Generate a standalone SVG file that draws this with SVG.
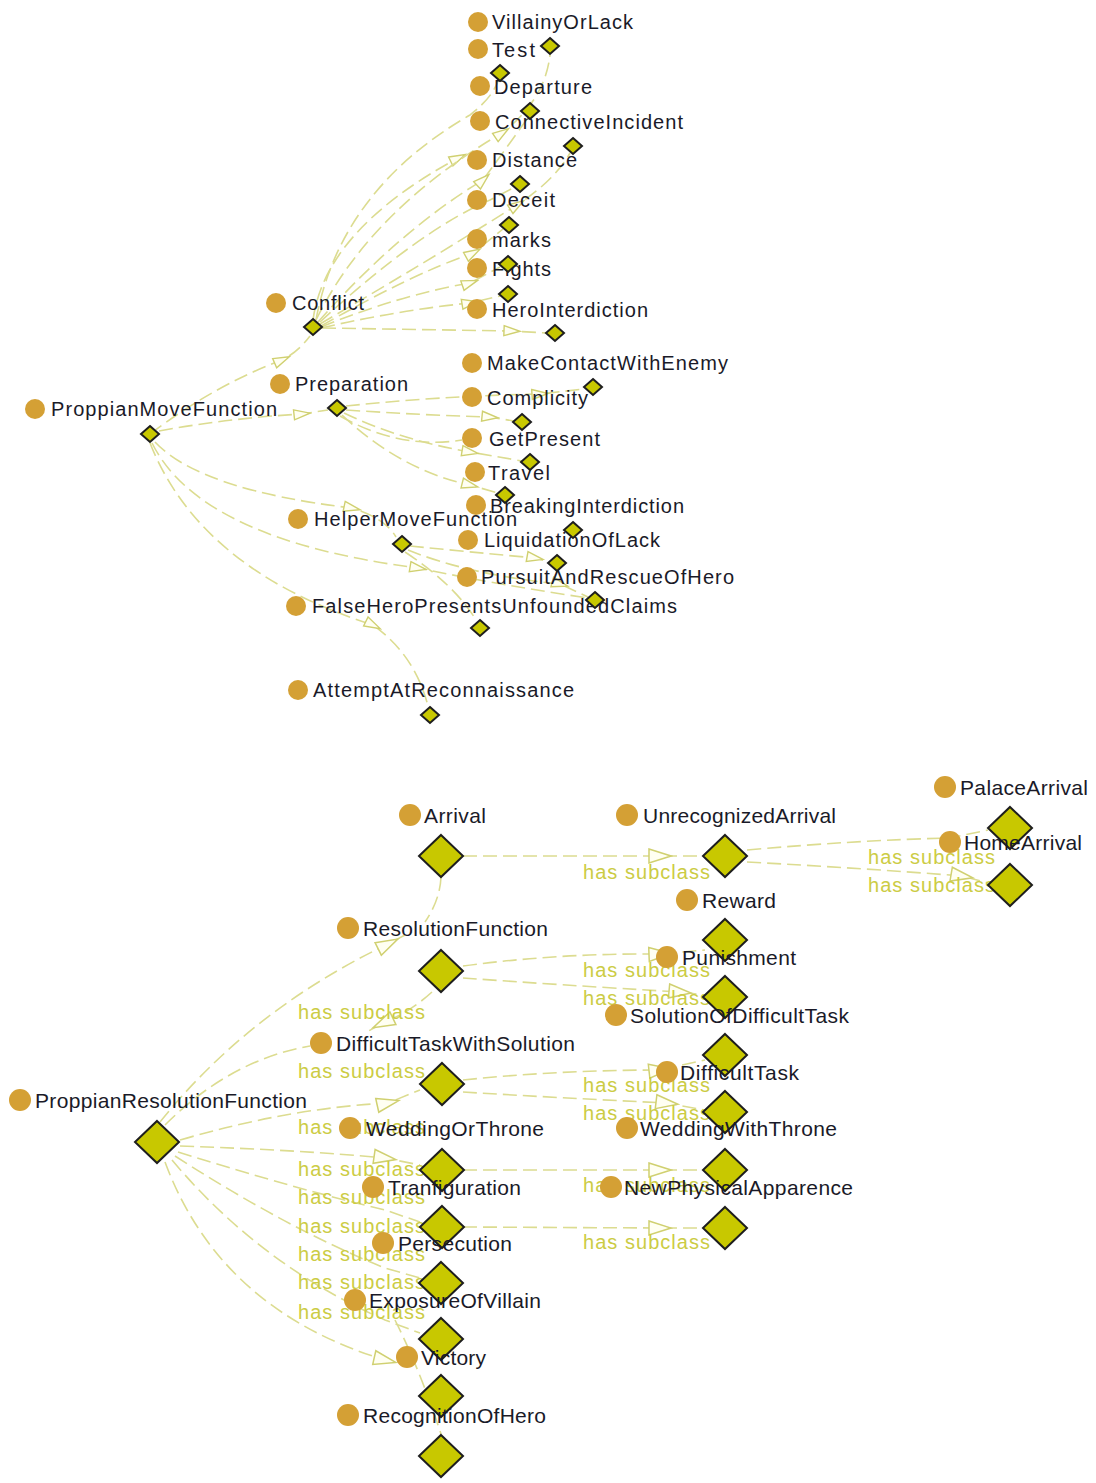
<svg xmlns="http://www.w3.org/2000/svg" width="1096" height="1483" viewBox="0 0 1096 1483">
<style>
.c{fill:#d4a035}
.cb{fill:#d4a035}
.d{fill:#c8c800;stroke:#1e1e1e;stroke-width:2;stroke-linejoin:miter}
.t{font-family:"Liberation Sans",Arial,sans-serif;font-size:20px;fill:#1a1a28}
.tb{font-family:"Liberation Sans",Arial,sans-serif;font-size:21px;fill:#1a1a28}
.e{fill:none;stroke:#dcdc90;stroke-width:1.6;stroke-dasharray:14 6}
.et{marker-mid:url(#mt)}
.eb{marker-mid:url(#mb)}
.l{font-family:"Liberation Sans",Arial,sans-serif;font-size:20px;fill:#cccc44}
</style>
<defs>
<marker id="mt" markerUnits="userSpaceOnUse" viewBox="-2 -2 20 14" refX="8" refY="5" markerWidth="20" markerHeight="14" orient="auto">
<path d="M0,0 L16,5 L0,10 Z" fill="#fffff2" stroke="#d0d070" stroke-width="1.4"/>
</marker>
<marker id="mb" markerUnits="userSpaceOnUse" viewBox="-2 -2 26 18" refX="11" refY="7" markerWidth="26" markerHeight="18" orient="auto">
<path d="M0,0 L22,7 L0,14 Z" fill="#fffff2" stroke="#d0d070" stroke-width="1.5"/>
</marker>
<path id="ds" class="d" d="M0,-8 L9,0 L0,8 L-9,0 Z"/>
<path id="db" class="d" d="M0,-21 L22,0 L0,21 L-22,0 Z"/>
</defs>
<rect width="1096" height="1483" fill="#ffffff"/>

<g id="connectors">
<!-- top: ProppianMoveFunction -->
<path class="e et" d="M150,434 Q215,385 282,360 Q298,352 310,336"/>
<path class="e et" d="M159,431 Q230,418 302,414 L328,410"/>
<path class="e et" d="M155,442 Q200,490 352,508 Q385,518 396,537"/>
<path class="e et" d="M152,443 Q200,540 418,568 Q500,585 588,598"/>
<path class="e et" d="M150,443 Q200,570 373,625 Q415,655 428,706"/>
<!-- HelperMoveFunction -->
<path class="e et" d="M410,546 Q470,552 535,558 L550,562"/>
<path class="e et" d="M408,550 Q470,575 560,584 L588,597"/>
<path class="e" d="M405,552 Q455,585 476,620"/>
<!-- Preparation -->
<path class="e et" d="M346,406 Q440,396 540,394 L584,389"/>
<path class="e et" d="M346,410 Q420,415 490,417 L514,421"/>
<path class="e et" d="M344,413 Q400,440 470,452 Q505,458 522,461"/>
<path class="e et" d="M342,415 Q400,470 470,485 L498,493"/>
<path class="e" d="M340,416 Q400,450 462,440"/>
<!-- Conflict -->
<path class="e et" d="M313,320 Q325,230 458,158 L470,153"/>
<path class="e et" d="M316,320 Q370,210 502,133 Q545,100 550,55"/>
<path class="e et" d="M318,322 Q400,230 483,180 Q505,150 527,119"/>
<path class="e et" d="M320,324 Q430,260 517,205 Q555,180 570,153"/>
<path class="e et" d="M321,326 Q410,275 473,253 L503,229"/>
<path class="e et" d="M321,327 Q400,295 470,283 L500,267"/>
<path class="e et" d="M321,328 Q400,310 470,303 L500,296"/>
<path class="e et" d="M322,328 L512,331 L546,333"/>
<path class="e" d="M316,320 Q340,190 470,115 Q492,98 498,81"/>
<path class="e" d="M320,322 Q420,230 490,200 L513,188"/>

<!-- bottom -->
<path class="e eb" d="M463,856 L660,856 L703,856"/>
<path class="e" d="M747,850 Q860,840 950,838 L988,830"/>
<path class="e eb" d="M747,862 Q860,868 962,876 L988,883"/>
<path class="e eb" d="M463,966 Q560,953 660,954 L705,950"/>
<path class="e eb" d="M463,978 Q560,985 680,992 L704,995"/>
<path class="e eb" d="M463,1080 Q560,1070 660,1070 L705,1060"/>
<path class="e eb" d="M463,1092 Q560,1098 667,1103 L704,1110"/>
<path class="e eb" d="M463,1170 L660,1170 L703,1170"/>
<path class="e eb" d="M463,1227 L660,1228 L703,1228"/>
<path class="e eb" d="M160,1122 Q250,1010 388,944 L405,935"/>
<path class="e" d="M165,1125 Q230,1060 310,1046"/>
<path class="e eb" d="M180,1140 Q290,1108 388,1103 L420,1090"/>
<path class="e eb" d="M180,1146 Q300,1150 385,1158 L420,1165"/>
<path class="e" d="M178,1152 Q300,1190 385,1210 L420,1222"/>
<path class="e" d="M175,1156 Q290,1230 385,1268 L420,1278"/>
<path class="e" d="M172,1160 Q260,1265 385,1320 L420,1333"/>
<path class="e eb" d="M165,1162 Q220,1310 385,1360 L398,1362"/>
<path class="e eb" d="M432,992 Q410,1012 383,1023 L365,1033"/>
<path class="e" d="M441,877 Q440,900 425,922"/>
<path class="e" d="M395,1320 Q420,1370 441,1434"/>

<text class="l" x="583" y="879" textLength="127">has subclass</text>
<text class="l" x="868" y="864" textLength="127">has subclass</text>
<text class="l" x="868" y="892" textLength="127">has subclass</text>
<text class="l" x="583" y="977" textLength="127">has subclass</text>
<text class="l" x="583" y="1005" textLength="127">has subclass</text>
<text class="l" x="583" y="1092" textLength="127">has subclass</text>
<text class="l" x="583" y="1120" textLength="127">has subclass</text>
<text class="l" x="583" y="1192" textLength="127">has subclass</text>
<text class="l" x="583" y="1249" textLength="127">has subclass</text>
<text class="l" x="298" y="1019" textLength="127">has subclass</text>
<text class="l" x="298" y="1078" textLength="127">has subclass</text>
<text class="l" x="298" y="1134" textLength="127">has subclass</text>
<text class="l" x="298" y="1176" textLength="127">has subclass</text>
<text class="l" x="298" y="1204" textLength="127">has subclass</text>
<text class="l" x="298" y="1233" textLength="127">has subclass</text>
<text class="l" x="298" y="1261" textLength="127">has subclass</text>
<text class="l" x="298" y="1289" textLength="127">has subclass</text>
<text class="l" x="298" y="1319" textLength="127">has subclass</text>
</g>

<!-- top nodes -->
<g id="n-VillainyOrLack"><circle class="c" cx="478" cy="22" r="10"/><text class="t" x="492" y="29" textLength="141">VillainyOrLack</text></g>
<g id="n-Test"><circle class="c" cx="478" cy="49" r="10"/><text class="t" x="492" y="57" textLength="43">Test</text><use href="#ds" x="550" y="46"/></g>
<g id="n-Departure"><circle class="c" cx="480" cy="86" r="10"/><text class="t" x="494" y="94" textLength="98">Departure</text><use href="#ds" x="500" y="73"/></g>
<g id="n-ConnectiveIncident"><circle class="c" cx="480" cy="121" r="10"/><text class="t" x="495" y="129" textLength="188">ConnectiveIncident</text><use href="#ds" x="530" y="111"/></g>
<g id="n-Distance"><circle class="c" cx="477" cy="160" r="10"/><text class="t" x="492" y="167" textLength="85">Distance</text><use href="#ds" x="573" y="146"/></g>
<g id="n-Deceit"><circle class="c" cx="477" cy="200" r="10"/><text class="t" x="492" y="207" textLength="63">Deceit</text><use href="#ds" x="520" y="184"/></g>
<g id="n-marks"><circle class="c" cx="477" cy="239" r="10"/><text class="t" x="492" y="247" textLength="59">marks</text><use href="#ds" x="509" y="225"/></g>
<g id="n-Fights"><circle class="c" cx="477" cy="268" r="10"/><text class="t" x="492" y="276" textLength="59">Fights</text><use href="#ds" x="508" y="264"/></g>
<g id="n-HeroInterdiction"><circle class="c" cx="477" cy="309" r="10"/><text class="t" x="492" y="317" textLength="156">HeroInterdiction</text><use href="#ds" x="508" y="294"/></g>
<g id="n-Conflict"><circle class="c" cx="276" cy="303" r="10"/><text class="t" x="292" y="310" textLength="72">Conflict</text><use href="#ds" x="313" y="327"/></g>
<g id="n-MakeContactWithEnemy"><circle class="c" cx="472" cy="363" r="10"/><text class="t" x="487" y="370" textLength="241">MakeContactWithEnemy</text><use href="#ds" x="555" y="333"/></g>
<g id="n-Complicity"><circle class="c" cx="472" cy="397" r="10"/><text class="t" x="487" y="405" textLength="101">Complicity</text><use href="#ds" x="593" y="387"/></g>
<g id="n-Preparation"><circle class="c" cx="280" cy="384" r="10"/><text class="t" x="295" y="391" textLength="113">Preparation</text><use href="#ds" x="337" y="408"/></g>
<g id="n-ProppianMoveFunction"><circle class="c" cx="35" cy="409" r="10"/><text class="t" x="51" y="416" textLength="226">ProppianMoveFunction</text><use href="#ds" x="150" y="434"/></g>
<g id="n-GetPresent"><circle class="c" cx="472" cy="438" r="10"/><text class="t" x="489" y="446" textLength="111">GetPresent</text><use href="#ds" x="522" y="422"/></g>
<g id="n-Travel"><circle class="c" cx="475" cy="472" r="10"/><text class="t" x="488" y="480" textLength="62">Travel</text><use href="#ds" x="530" y="462"/></g>
<g id="n-BreakingInterdiction"><circle class="c" cx="476" cy="505" r="10"/><text class="t" x="490" y="513" textLength="194">BreakingInterdiction</text><use href="#ds" x="505" y="495"/></g>
<g id="n-HelperMoveFunction"><circle class="c" cx="298" cy="519" r="10"/><text class="t" x="314" y="526" textLength="203">HelperMoveFunction</text><use href="#ds" x="402" y="544"/></g>
<g id="n-LiquidationOfLack"><circle class="c" cx="468" cy="540" r="10"/><text class="t" x="484" y="547" textLength="176">LiquidationOfLack</text><use href="#ds" x="573" y="530"/></g>
<g id="n-PursuitAndRescueOfHero"><circle class="c" cx="467" cy="577" r="10"/><text class="t" x="481" y="584" textLength="253">PursuitAndRescueOfHero</text><use href="#ds" x="557" y="563"/></g>
<g id="n-FalseHeroPresentsUnfoundedClaims"><circle class="c" cx="296" cy="606" r="10"/><text class="t" x="312" y="613" textLength="365">FalseHeroPresentsUnfoundedClaims</text><use href="#ds" x="595" y="600"/></g>
<g id="n-AttemptAtReconnaissance"><circle class="c" cx="298" cy="690" r="10"/><text class="t" x="313" y="697" textLength="261">AttemptAtReconnaissance</text><use href="#ds" x="480" y="628"/><use href="#ds" x="430" y="715"/></g>

<!-- bottom nodes -->
<g id="n-PalaceArrival"><circle class="cb" cx="945" cy="787" r="11"/><text class="tb" x="960" y="795" textLength="128">PalaceArrival</text><use href="#db" x="1010" y="828"/></g>
<g id="n-UnrecognizedArrival"><circle class="cb" cx="627" cy="815" r="11"/><text class="tb" x="643" y="823" textLength="193">UnrecognizedArrival</text><use href="#db" x="725" y="856"/></g>
<g id="n-HomeArrival"><circle class="cb" cx="950" cy="842" r="11"/><text class="tb" x="964" y="850" textLength="118">HomeArrival</text><use href="#db" x="1010" y="885"/></g>
<g id="n-Arrival"><circle class="cb" cx="410" cy="815" r="11"/><text class="tb" x="424" y="823" textLength="62">Arrival</text><use href="#db" x="441" y="856"/></g>
<g id="n-Reward"><circle class="cb" cx="687" cy="900" r="11"/><text class="tb" x="702" y="908" textLength="74">Reward</text><use href="#db" x="725" y="940"/></g>
<g id="n-ResolutionFunction"><circle class="cb" cx="348" cy="928" r="11"/><text class="tb" x="363" y="936" textLength="185">ResolutionFunction</text><use href="#db" x="441" y="971"/></g>
<g id="n-Punishment"><circle class="cb" cx="667" cy="957" r="11"/><text class="tb" x="682" y="965" textLength="114">Punishment</text><use href="#db" x="725" y="997"/></g>
<g id="n-SolutionOfDifficultTask"><circle class="cb" cx="616" cy="1015" r="11"/><text class="tb" x="630" y="1023" textLength="219">SolutionOfDifficultTask</text><use href="#db" x="725" y="1055"/></g>
<g id="n-DifficultTaskWithSolution"><circle class="cb" cx="321" cy="1043" r="11"/><text class="tb" x="336" y="1051" textLength="239">DifficultTaskWithSolution</text><use href="#db" x="442" y="1084"/></g>
<g id="n-DifficultTask"><circle class="cb" cx="667" cy="1072" r="11"/><text class="tb" x="680" y="1080" textLength="119">DifficultTask</text><use href="#db" x="725" y="1112"/></g>
<g id="n-ProppianResolutionFunction"><circle class="cb" cx="20" cy="1100" r="11"/><text class="tb" x="35" y="1108" textLength="272">ProppianResolutionFunction</text><use href="#db" x="157" y="1142"/></g>
<g id="n-WeddingOrThrone"><circle class="cb" cx="350" cy="1128" r="11"/><text class="tb" x="366" y="1136" textLength="178">WeddingOrThrone</text><use href="#db" x="442" y="1170"/></g>
<g id="n-WeddingWithThrone"><circle class="cb" cx="627" cy="1128" r="11"/><text class="tb" x="640" y="1136" textLength="197">WeddingWithThrone</text><use href="#db" x="725" y="1170"/></g>
<g id="n-Tranfiguration"><circle class="cb" cx="373" cy="1187" r="11"/><text class="tb" x="388" y="1195" textLength="133">Tranfiguration</text><use href="#db" x="442" y="1227"/></g>
<g id="n-NewPhysicalApparence"><circle class="cb" cx="611" cy="1187" r="11"/><text class="tb" x="624" y="1195" textLength="229">NewPhysicalApparence</text><use href="#db" x="725" y="1228"/></g>
<g id="n-Persecution"><circle class="cb" cx="383" cy="1243" r="11"/><text class="tb" x="398" y="1251" textLength="114">Persecution</text><use href="#db" x="441" y="1283"/></g>
<g id="n-ExposureOfVillain"><circle class="cb" cx="355" cy="1300" r="11"/><text class="tb" x="369" y="1308" textLength="172">ExposureOfVillain</text><use href="#db" x="441" y="1339"/></g>
<g id="n-Victory"><circle class="cb" cx="407" cy="1357" r="11"/><text class="tb" x="421" y="1365" textLength="65">Victory</text><use href="#db" x="441" y="1396"/></g>
<g id="n-RecognitionOfHero"><circle class="cb" cx="348" cy="1415" r="11"/><text class="tb" x="363" y="1423" textLength="183">RecognitionOfHero</text><use href="#db" x="441" y="1456"/></g>
</svg>
